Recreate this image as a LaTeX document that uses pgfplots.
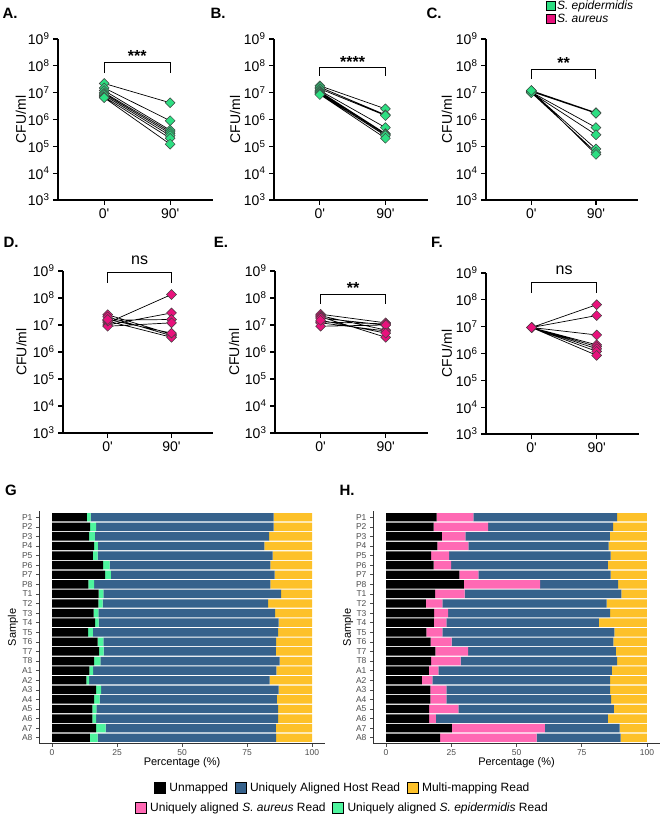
\documentclass[border=0pt]{standalone}
\usepackage{fontspec}
\setmainfont{Liberation Sans}[Ligatures=TeXOff]
\usepackage{pgfplots}
\pgfplotsset{compat=1.18}
\usepackage{pgfplotstable}

\definecolor{sepi}{RGB}{45,222,130}
\definecolor{saur}{RGB}{232,18,124}
\definecolor{sepibar}{RGB}{78,245,158}
\definecolor{saurbar}{RGB}{255,105,180}
\definecolor{host}{RGB}{54,98,140}
\definecolor{multi}{RGB}{253,193,41}
\definecolor{tickgray}{RGB}{77,77,77}

\pgfplotstableread[row sep=\\]{x y\\
0 2.2e7\\ 1 4.2e6\\ nan nan\\
0 1.5e7\\ 1 9e5\\ nan nan\\
0 1.2e7\\ 1 4e5\\ nan nan\\
0 1e7\\ 1 3.5e5\\ nan nan\\
0 9e6\\ 1 3e5\\ nan nan\\
0 8e6\\ 1 2.5e5\\ nan nan\\
0 7e6\\ 1 2e5\\ nan nan\\
0 6.5e6\\ 1 1.2e5\\
}\dataA
\pgfplotstableread[row sep=\\]{x y\\
0 1.8e7\\ 1 2.5e6\\ nan nan\\
0 1.6e7\\ 1 1.5e6\\ nan nan\\
0 1.4e7\\ 1 1.4e6\\ nan nan\\
0 1.2e7\\ 1 5e5\\ nan nan\\
0 1.1e7\\ 1 3e5\\ nan nan\\
0 1e7\\ 1 2.8e5\\ nan nan\\
0 9e6\\ 1 2.5e5\\ nan nan\\
0 8.5e6\\ 1 2e5\\
}\dataB
\pgfplotstableread[row sep=\\]{x y\\
0 1.2e7\\ 1 1.8e6\\ nan nan\\
0 1.15e7\\ 1 1.75e6\\ nan nan\\
0 1.1e7\\ 1 1.7e6\\ nan nan\\
0 1.05e7\\ 1 5e5\\ nan nan\\
0 1e7\\ 1 2.7e5\\ nan nan\\
0 1.1e7\\ 1 8e4\\ nan nan\\
0 1e7\\ 1 6e4\\ nan nan\\
0 1.2e7\\ 1 5e4\\
}\dataC
\pgfplotstableread[row sep=\\]{x y\\
0 1.2e7\\ 1 1.35e8\\ nan nan\\
0 1e7\\ 1 2.8e7\\ nan nan\\
0 1.5e7\\ 1 1.6e7\\ nan nan\\
0 9e6\\ 1 1.2e7\\ nan nan\\
0 2.4e7\\ 1 4.5e6\\ nan nan\\
0 2e7\\ 1 4e6\\ nan nan\\
0 1.4e7\\ 1 3.5e6\\ nan nan\\
0 1.6e7\\ 1 5e6\\
}\dataD
\pgfplotstableread[row sep=\\]{x y\\
0 2.5e7\\ 1 1.2e7\\ nan nan\\
0 2.2e7\\ 1 6.5e6\\ nan nan\\
0 2e7\\ 1 3.5e6\\ nan nan\\
0 1.8e7\\ 1 1e7\\ nan nan\\
0 1.3e7\\ 1 1.1e7\\ nan nan\\
0 1.2e7\\ 1 6e6\\ nan nan\\
0 9e6\\ 1 1e7\\ nan nan\\
0 1.5e7\\ 1 5e6\\
}\dataE
\pgfplotstableread[row sep=\\]{x y\\
0 9.3e6\\ 1 6.6e7\\ nan nan\\
0 9.3e6\\ 1 2.6e7\\ nan nan\\
0 9.3e6\\ 1 4.9e6\\ nan nan\\
0 9.3e6\\ 1 2.1e6\\ nan nan\\
0 9.3e6\\ 1 1.8e6\\ nan nan\\
0 9.3e6\\ 1 1.5e6\\ nan nan\\
0 9.3e6\\ 1 1.2e6\\ nan nan\\
0 9.3e6\\ 1 8.5e5\\
}\dataF

\pgfplotstableread{
name unm bac host
P1 13.4 14.9 85.2
P2 14.7 17.0 85.2
P3 14.3 16.5 83.5
P4 16.2 17.6 81.7
P5 15.7 17.5 84.9
P6 19.7 22.2 84.0
P7 20.4 22.6 85.6
P8 14.0 16.2 84.0
T1 17.9 19.8 88.1
T2 17.8 19.5 83.1
T3 16.0 17.8 85.8
T4 16.6 17.9 87.2
T5 13.9 15.7 87.0
T6 17.5 19.8 86.2
T7 18.1 19.9 86.1
T8 16.2 18.6 87.5
A1 14.4 15.8 86.3
A2 13.2 14.3 83.7
A3 17.0 18.9 87.2
A4 16.2 18.3 86.5
A5 15.5 17.1 87.0
A6 15.5 17.0 87.0
A7 17.0 20.6 86.1
A8 14.6 17.5 86.2
}\dataG
\pgfplotstableread{
name unm bac host
P1 19.4 33.5 88.6
P2 18.2 39.1 87.0
P3 21.4 30.4 85.8
P4 19.7 31.6 85.3
P5 17.3 24.2 86.1
P6 18.2 24.9 85.0
P7 28.1 35.4 86.1
P8 29.8 59.1 88.9
T1 18.8 30.1 90.2
T2 15.3 21.6 84.5
T3 18.4 23.8 85.9
T4 18.3 23.1 81.6
T5 15.5 21.6 87.5
T6 17.1 25.1 87.1
T7 18.9 31.5 88.1
T8 17.3 28.6 88.6
A1 16.4 20.1 86.6
A2 13.7 17.8 85.9
A3 17.0 23.1 85.9
A4 17.0 23.1 86.3
A5 16.5 27.7 87.3
A6 16.5 19.1 85.0
A7 25.2 60.9 89.5
A8 20.7 57.7 89.9
}\dataH

\pgfplotsset{
  cfuaxis/.style={
    scale only axis, ymin=1e3, ymax=1e9, xmin=-0.7, xmax=1.65,
    axis x line*=bottom, axis y line*=left,
    axis line style={-, line width=1.1pt},
    xtick={0,1}, xticklabels={0',90'},
    ytick={1e3,1e4,1e5,1e6,1e7,1e8,1e9},
    yticklabels={10\textsuperscript{3},10\textsuperscript{4},10\textsuperscript{5},10\textsuperscript{6},10\textsuperscript{7},10\textsuperscript{8},10\textsuperscript{9}},
    yminorticks=false,
    tick align=outside, major tick length=5pt,
    tick style={black, line width=1.1pt},
    ticklabel style={font=\fontsize{14}{16}\selectfont},
    ylabel={CFU/ml},
    ylabel style={font=\fontsize{14}{16}\selectfont, anchor=center},
    clip=false, unbounded coords=jump,
  },
  barsaxis/.style={
    scale only axis, xbar stacked, bar width=0.88,
    xmin=-5, xmax=105, ymin=-23.6, ymax=0.6,
    axis x line*=bottom, axis y line*=left,
    axis line style={-, line width=0.8pt, black!80},
    xtick={0,25,50,75,100},
    ytick={-23,-22,...,0},
    yticklabels={A8,A7,A6,A5,A4,A3,A2,A1,T8,T7,T6,T5,T4,T3,T2,T1,P8,P7,P6,P5,P4,P3,P2,P1},
    tick align=outside, major tick length=3pt,
    tick style={black!70, line width=0.6pt},
    ticklabel style={font=\fontsize{8.5}{10}\selectfont, text=tickgray},
    /pgf/number format/assume math mode=true,
    xlabel={Percentage (\%)}, ylabel={Sample},
    xlabel style={font=\fontsize{11}{12}\selectfont, at={(axis description cs:0.5,-0.084)}, anchor=center},
    ylabel style={font=\fontsize{11}{12}\selectfont, anchor=center},
  },
  botlegend/.style={
    hide axis, scale only axis, width=1pt, height=1pt,
    xmin=0, xmax=1, ymin=0, ymax=1,
    legend style={at={(0.5,0.5)}, anchor=center, draw=none, fill=none, inner sep=0pt,
      font=\fontsize{12}{13}\selectfont, nodes={inner sep=1.5pt},
      /tikz/every odd column/.append style={column sep=2.5pt},
      /tikz/every even column/.append style={column sep=5pt}},
    legend image code/.code={\fill[#1] (0pt,-5.5pt) rectangle (11pt,5.5pt);},
  },
}
\tikzset{
  sig/.style={anchor=base, inner sep=0pt, font=\bfseries\fontsize{16}{18}\selectfont},
  nslab/.style={anchor=base, inner sep=0pt, font=\fontsize{16}{18}\selectfont},
  plet/.style={font=\bfseries\fontsize{15}{17}\selectfont},
}

\begin{document}
\begin{tikzpicture}
\useasboundingbox (0pt,0pt) rectangle (661pt,816pt);

\node[plet] at (10pt,802.5pt) {A.};
\node[plet] at (218pt,802.5pt) {B.};
\node[plet] at (434pt,802.5pt) {C.};
\node[plet] at (11pt,574pt) {D.};
\node[plet] at (221pt,574pt) {E.};
\node[plet] at (437pt,574pt) {F.};
\node[plet] at (11pt,326pt) {G};
\node[plet] at (347pt,326pt) {H.};

% A
\begin{axis}[ymode=log, cfuaxis, at={(58pt,616pt)}, anchor=south west, width=155pt, height=161pt,
  ylabel style={at={(axis description cs:-0.239,0.5)}}]
\addplot[black, line width=0.7pt, mark=none] table {\dataA};
\addplot[only marks, mark=square*, mark size=3.5pt, mark options={rotate=45, fill=sepi, draw=black!75, line width=0.5pt}] table {\dataA};
\draw[line width=1pt] (axis cs:0,5.4e7) |- (axis cs:1,1.38e8) -- (axis cs:1,5.4e7);
\node[sig] at (axis cs:0.5,1.38e8) [yshift=0.5pt] {***};
\end{axis}
% B
\begin{axis}[ymode=log, cfuaxis, at={(274pt,616pt)}, anchor=south west, width=154pt, height=161pt,
  ylabel style={at={(axis description cs:-0.253,0.5)}}]
\addplot[black, line width=0.7pt, mark=none] table {\dataB};
\addplot[only marks, mark=square*, mark size=3.5pt, mark options={rotate=45, fill=sepi, draw=black!75, line width=0.5pt}] table {\dataB};
\draw[line width=1pt] (axis cs:0,4.2e7) |- (axis cs:1,8.3e7) -- (axis cs:1,4.2e7);
\node[sig] at (axis cs:0.5,8.3e7) [yshift=0.5pt] {****};
\end{axis}
% C
\begin{axis}[ymode=log, cfuaxis, at={(486pt,616pt)}, anchor=south west, width=152pt, height=161pt,
  ylabel style={at={(axis description cs:-0.257,0.5)}}]
\addplot[black, line width=0.7pt, mark=none] table {\dataC};
\addplot[only marks, mark=square*, mark size=3.5pt, mark options={rotate=45, fill=sepi, draw=black!75, line width=0.5pt}] table {\dataC};
\draw[line width=1pt] (axis cs:0,3.2e7) |- (axis cs:1,7.6e7) -- (axis cs:1,3.2e7);
\node[sig] at (axis cs:0.5,7.6e7) [yshift=0.5pt] {**};
\end{axis}
% D
\begin{axis}[ymode=log, cfuaxis, at={(63pt,383pt)}, anchor=south west, width=150pt, height=162pt,
  ylabel style={at={(axis description cs:-0.277,0.5)}}]
\addplot[black, line width=0.7pt, mark=none] table {\dataD};
\addplot[only marks, mark=square*, mark size=3.5pt, mark options={rotate=45, fill=saur, draw=black!75, line width=0.5pt}] table {\dataD};
\draw[line width=1pt] (axis cs:0,3.6e8) |- (axis cs:1,8.5e8) -- (axis cs:1,3.6e8);
\node[nslab] at (axis cs:0.5,8.5e8) [yshift=8pt] {ns};
\end{axis}
% E
\begin{axis}[ymode=log, cfuaxis, at={(275pt,383pt)}, anchor=south west, width=153pt, height=162pt,
  ylabel style={at={(axis description cs:-0.268,0.5)}}]
\addplot[black, line width=0.7pt, mark=none] table {\dataE};
\addplot[only marks, mark=square*, mark size=3.5pt, mark options={rotate=45, fill=saur, draw=black!75, line width=0.5pt}] table {\dataE};
\draw[line width=1pt] (axis cs:0,6e7) |- (axis cs:1,1.4e8) -- (axis cs:1,6e7);
\node[sig] at (axis cs:0.5,1.4e8) [yshift=0.5pt] {**};
\end{axis}
% F
\begin{axis}[ymode=log, cfuaxis, at={(486pt,382pt)}, anchor=south west, width=153pt, height=161pt,
  ylabel style={at={(axis description cs:-0.255,0.5)}}]
\addplot[black, line width=0.7pt, mark=none] table {\dataF};
\addplot[only marks, mark=square*, mark size=3.5pt, mark options={rotate=45, fill=saur, draw=black!75, line width=0.5pt}] table {\dataF};
\draw[line width=1pt] (axis cs:0,1.8e8) |- (axis cs:1,4.6e8) -- (axis cs:1,1.8e8);
\node[nslab] at (axis cs:0.5,4.6e8) [yshift=8pt] {ns};
\end{axis}

% top legend
\begin{axis}[hide axis, scale only axis, width=1pt, height=1pt,
  xmin=0, xmax=1, ymin=0, ymax=1, at={(546pt,803.5pt)}, anchor=center,
  legend style={at={(0,0.5)}, anchor=west, draw=none, fill=none, inner sep=0pt,
    font=\itshape\fontsize{12}{13}\selectfont, row sep=0pt,
    nodes={inner sep=1.5pt}},
  legend cell align=left,
  legend image code/.code={\draw[#1] (0pt,-4.5pt) rectangle (9pt,4.5pt);}]
\addlegendimage{fill=sepi, draw=black, line width=0.8pt}
\addlegendentry{S. epidermidis}
\addlegendimage{fill=saur, draw=black, line width=0.8pt}
\addlegendentry{S. aureus}
\end{axis}

% G
\begin{axis}[barsaxis, at={(39pt,72.5pt)}, anchor=south west, width=286pt, height=232pt,
  ylabel style={at={(axis description cs:-0.091,0.5)}}]
\addplot[fill=black, draw=none] table[x=unm, y expr=-\coordindex] {\dataG};
\addplot[fill=sepibar, draw=none] table[x expr=\thisrow{bac}-\thisrow{unm}, y expr=-\coordindex] {\dataG};
\addplot[fill=host, draw=none] table[x expr=\thisrow{host}-\thisrow{bac}, y expr=-\coordindex] {\dataG};
\addplot[fill=multi, draw=none] table[x expr=100-\thisrow{host}, y expr=-\coordindex] {\dataG};
\end{axis}
% H
\begin{axis}[barsaxis, at={(373pt,72.5pt)}, anchor=south west, width=287pt, height=232pt,
  ylabel style={at={(axis description cs:-0.087,0.5)}}]
\addplot[fill=black, draw=none] table[x=unm, y expr=-\coordindex] {\dataH};
\addplot[fill=saurbar, draw=none] table[x expr=\thisrow{bac}-\thisrow{unm}, y expr=-\coordindex] {\dataH};
\addplot[fill=host, draw=none] table[x expr=\thisrow{host}-\thisrow{bac}, y expr=-\coordindex] {\dataH};
\addplot[fill=multi, draw=none] table[x expr=100-\thisrow{host}, y expr=-\coordindex] {\dataH};
\end{axis}

% bottom legend, row 1
\begin{axis}[botlegend, at={(342.5pt,28pt)}, anchor=center, legend columns=3]
\addlegendimage{fill=black}
\addlegendentry{Unmapped}
\addlegendimage{fill=host}
\addlegendentry{Uniquely Aligned Host Read}
\addlegendimage{fill=multi}
\addlegendentry{Multi-mapping Read}
\end{axis}
% bottom legend, row 2
\begin{axis}[botlegend, at={(342pt,8.5pt)}, anchor=center, legend columns=2]
\addlegendimage{fill=saurbar}
\addlegendentry{Uniquely aligned \textit{S. aureus} Read}
\addlegendimage{fill=sepibar}
\addlegendentry{Uniquely aligned \textit{S. epidermidis} Read}
\end{axis}
\end{tikzpicture}
\end{document}
